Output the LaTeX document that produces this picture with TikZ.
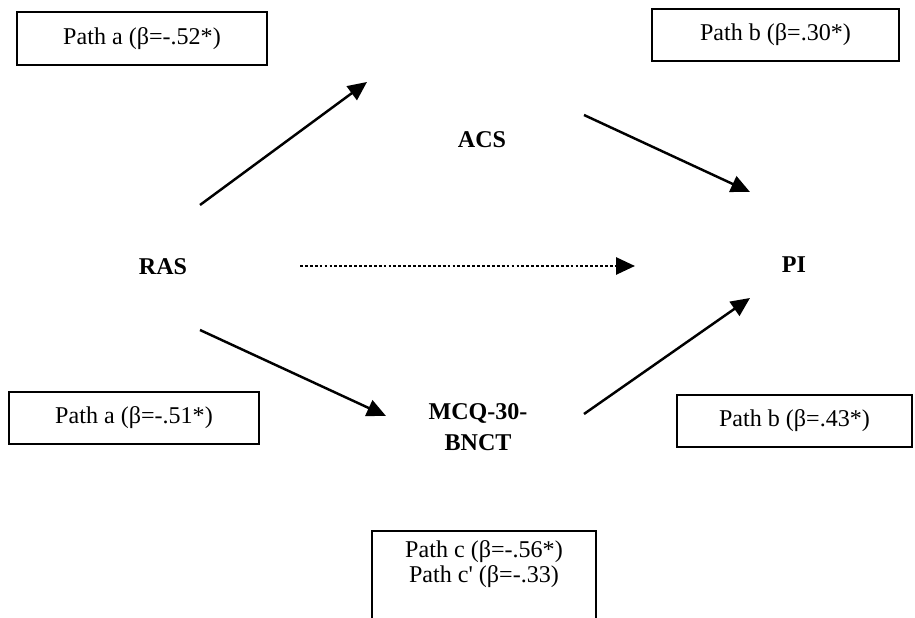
\documentclass[tikz,border=0pt]{standalone}
\usepackage{fontspec}
\setmainfont{Liberation Serif}
\usetikzlibrary{arrows.meta}

\begin{document}
\begin{tikzpicture}[
    font=\fontsize{13.7}{14}\selectfont,
    pathbox/.style={draw, line width=1pt, minimum height=1.05cm, inner sep=0pt},
    var/.style={font=\fontsize{13.7}{17.5}\selectfont\bfseries, align=center},
    link/.style={-{Triangle[length=0.38cm, width=0.34cm]}, line width=1.4pt}
]
    % Frame of the page (bottom box runs off the edge)
    \clip (0,0) rectangle (18.3,12.36);

    % ==========================================
    % Variables
    % ==========================================
    \node[var] (ras) at (3.26,7.02) {RAS};
    \node[var] (acs) at (9.64,9.56) {ACS};
    \node[var] (mcq) at (9.56,3.82) {MCQ-30-\\BNCT};
    \node[var] (pi)  at (15.88,7.06) {PI};

    % ==========================================
    % Coefficient boxes
    % ==========================================
    \node[pathbox, minimum width=5.0cm]  (patha1) at (2.84,11.59) {Path a (β=-.52*)};
    \node[pathbox, minimum width=4.94cm] (pathb1) at (15.51,11.66) {Path b (β=.30*)};
    \node[pathbox, minimum width=5.0cm]  (patha2) at (2.68,4.0) {Path a (β=-.51*)};
    \node[pathbox, minimum width=4.7cm]  (pathb2) at (15.89,3.94) {Path b (β=.43*)};

    % Total / direct effect box
    \node[pathbox, minimum width=4.48cm, minimum height=3cm, anchor=north] (boxc) at (9.68,1.76) {};
    \node[align=center] (pathc) at (9.68,1.08) {Path c (β=-.56*)\\Path c\textquotesingle{} (β=-.33)};

    % ==========================================
    % Arrow ends (the arrows stop short of the labels)
    % ==========================================
    \coordinate (rasUp)   at (4.0,8.26);
    \coordinate (acsIn)   at (7.34,10.72);
    \coordinate (rasDown) at (4.0,5.76);
    \coordinate (mcqIn)   at (7.72,4.04);
    \coordinate (acsOut)  at (11.68,10.06);
    \coordinate (piUp)    at (15.0,8.52);
    \coordinate (mcqOut)  at (11.68,4.08);
    \coordinate (piDown)  at (15.0,6.4);
    \coordinate (rasOut)  at (6.0,7.04);
    \coordinate (piIn)    at (12.7,7.04);

    % Paths a and b
    \draw[link] (rasUp) -- (acsIn);
    \draw[link] (rasDown) -- (mcqIn);
    \draw[link] (acsOut) -- (piUp);
    \draw[link] (mcqOut) -- (piDown);

    % Direct path c' (dotted)
    \draw[link, line width=1.6pt, dash pattern=on 1.6pt off 1.2pt] (rasOut) -- (piIn);
\end{tikzpicture}
\end{document}
